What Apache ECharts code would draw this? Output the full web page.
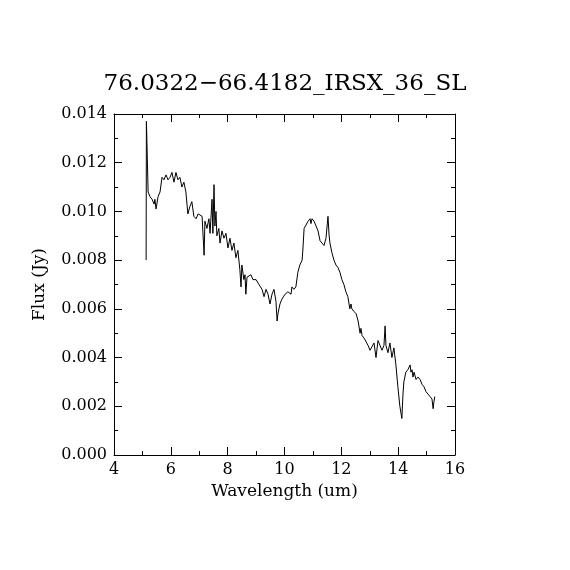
<!DOCTYPE html>
<html>
<head>
<meta charset="utf-8">
<script src="https://cdn.jsdelivr.net/npm/echarts@6/dist/echarts.min.js"></script>
<style>html,body{margin:0;padding:0;background:#fff}#c{width:570px;height:570px}</style>
</head>
<body>
<div id="c"></div>
<script>
const titleText = "76.0322\u221266.4182_IRSX_36_SL";
const xName = "Wavelength (um)";
const yName = "Flux (Jy)";
const wavelength = [5.13,5.14,5.16,5.20,5.27,5.34,5.41,5.44,5.48,5.55,5.62,5.69,5.76,5.83,5.90,5.97,6.04,6.11,6.18,6.25,6.32,6.39,6.46,6.53,6.60,6.67,6.74,6.81,6.89,6.96,7.03,7.10,7.17,7.20,7.27,7.34,7.38,7.45,7.48,7.52,7.55,7.59,7.62,7.69,7.73,7.80,7.87,7.94,8.01,8.08,8.15,8.22,8.29,8.36,8.43,8.47,8.50,8.57,8.61,8.64,8.68,8.75,8.82,8.89,9.00,9.10,9.21,9.28,9.35,9.42,9.49,9.56,9.63,9.70,9.74,9.77,9.84,9.91,10.02,10.12,10.23,10.26,10.33,10.40,10.47,10.54,10.62,10.65,10.69,10.76,10.83,10.90,10.93,10.97,11.04,11.11,11.18,11.25,11.32,11.39,11.46,11.53,11.57,11.60,11.67,11.74,11.81,11.88,11.95,12.02,12.09,12.16,12.23,12.30,12.34,12.37,12.44,12.52,12.59,12.66,12.69,12.73,12.80,12.87,12.94,13.01,13.08,13.15,13.22,13.29,13.36,13.43,13.50,13.54,13.57,13.64,13.71,13.78,13.85,13.92,13.99,14.06,14.13,14.17,14.20,14.27,14.34,14.42,14.45,14.49,14.52,14.56,14.63,14.70,14.77,14.84,14.91,14.98,15.05,15.12,15.19,15.23,15.26,15.29];
const flux = [0.0080,0.0137,0.0128,0.0108,0.0106,0.0105,0.0103,0.0105,0.0101,0.0106,0.0108,0.0114,0.0113,0.0115,0.0113,0.0114,0.0116,0.0112,0.0116,0.0113,0.0114,0.0110,0.0112,0.0108,0.0099,0.0102,0.0104,0.0098,0.0097,0.0099,0.0099,0.0098,0.0082,0.0096,0.0093,0.0097,0.0091,0.0105,0.0091,0.0111,0.0094,0.0100,0.0090,0.0093,0.0087,0.0092,0.0089,0.0091,0.0085,0.0089,0.0084,0.0087,0.0081,0.0084,0.0076,0.0069,0.0078,0.0072,0.0074,0.0066,0.0073,0.0073,0.0074,0.0072,0.0072,0.0070,0.0068,0.0065,0.0068,0.0066,0.0062,0.0066,0.0068,0.0063,0.0055,0.0058,0.0062,0.0064,0.0066,0.0067,0.0066,0.0069,0.0068,0.0069,0.0075,0.0078,0.0080,0.0085,0.0093,0.0093,0.0096,0.0097,0.0095,0.0097,0.0096,0.0096,0.0092,0.0088,0.0087,0.0086,0.0089,0.0098,0.0090,0.0087,0.0083,0.0080,0.0078,0.0077,0.0075,0.0072,0.0070,0.0067,0.0065,0.0060,0.0062,0.0060,0.0059,0.0058,0.0055,0.0050,0.0052,0.0049,0.0048,0.0048,0.0045,0.0043,0.0043,0.0046,0.0040,0.0047,0.0047,0.0043,0.0045,0.0053,0.0045,0.0042,0.0046,0.0040,0.0044,0.0037,0.0028,0.0020,0.0015,0.0025,0.0030,0.0034,0.0035,0.0037,0.0034,0.0035,0.0032,0.0034,0.0031,0.0032,0.0031,0.0029,0.0028,0.0026,0.0025,0.0024,0.0023,0.0019,0.0022,0.0024];

const font = "DejaVu Serif";
const axisCommon = {
  axisLine: {show: true, onZero: false, lineStyle: {color: '#000', width: 1}},
  axisTick: {show: true, inside: true, length: 8, lineStyle: {color: '#000'}},
  minorTick: {show: true, splitNumber: 2, length: 4, lineStyle: {color: '#000'}},
  splitLine: {show: false},
  minorSplitLine: {show: false}
};
const chart = echarts.init(document.getElementById('c'), null, {renderer: 'canvas'});
chart.setOption({
  animation: false,
  backgroundColor: '#fff',
  title: {text: titleText, left: 'center', top: 68,
    textStyle: {fontFamily: font, fontSize: 23, fontWeight: 'normal', color: '#000'}},
  grid: {left: 114, right: 115, top: 114, bottom: 115, show: false},
  xAxis: [
    Object.assign({type: 'value', min: 4, max: 16, interval: 2, position: 'bottom',
      name: xName, nameLocation: 'middle', nameGap: 28,
      nameTextStyle: {fontFamily: font, fontSize: 17, color: '#000'},
      axisLabel: {fontFamily: font, fontSize: 16, color: '#000', margin: 7}}, axisCommon),
    Object.assign({type: 'value', min: 4, max: 16, interval: 2, position: 'top',
      axisLabel: {show: false}}, axisCommon)
  ],
  yAxis: [
    Object.assign({type: 'value', min: 0, max: 0.014, interval: 0.002, position: 'left',
      name: yName, nameLocation: 'middle', nameGap: 66,
      nameTextStyle: {fontFamily: font, fontSize: 17, color: '#000'},
      axisLabel: {fontFamily: font, fontSize: 16, color: '#000', margin: 7,
        formatter: v => v.toFixed(3)}}, axisCommon),
    Object.assign({type: 'value', min: 0, max: 0.014, interval: 0.002, position: 'right',
      axisLabel: {show: false}}, axisCommon)
  ],
  series: [{
    type: 'line', showSymbol: false, symbol: 'none',
    data: wavelength.map((w, i) => [w, flux[i]]),
    lineStyle: {color: '#000', width: 1},
    xAxisIndex: 0, yAxisIndex: 0
  }]
});
</script>
</body>
</html>
